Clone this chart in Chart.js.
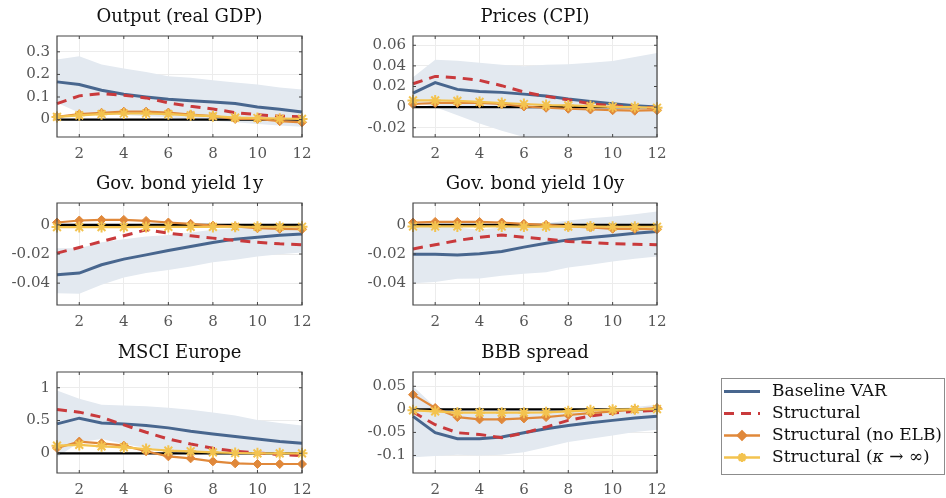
<!DOCTYPE html>
<html>
<head>
<meta charset="utf-8">
<script src="https://cdn.jsdelivr.net/npm/chart.js@4.4.1/dist/chart.umd.min.js"></script>
<style>
  html, body { margin:0; padding:0; background:#fff; }
  #wrap { position:relative; width:946px; height:498px; overflow:hidden; }
  canvas { position:absolute; }
</style>
</head>
<body>
<div id="wrap"></div>
<script>
// ---------- data ----------
const horizons = [1,2,3,4,5,6,7,8,9,10,11,12];
const xTicks = [2,4,6,8,10,12];
const seriesNames = ['Baseline VAR','Structural','Structural (no ELB)','Structural (κ → ∞)'];

const outputBaseline   = [0.167,0.155,0.13,0.112,0.10,0.09,0.083,0.078,0.071,0.056,0.046,0.034];
const outputStructural = [0.071,0.105,0.115,0.108,0.096,0.074,0.059,0.047,0.031,0.022,0.015,0.013];
const outputNoELB      = [0.012,0.024,0.03,0.035,0.035,0.031,0.022,0.015,0.003,0.003,-0.007,-0.012];
const outputKappa      = [0.012,0.019,0.024,0.027,0.027,0.024,0.019,0.015,0.009,0.007,0.004,0.003];
const outputBandHi     = [0.266,0.28,0.244,0.226,0.211,0.192,0.185,0.174,0.164,0.155,0.142,0.133];
const outputBandLo     = [0.075,0.03,0.025,0.02,0.015,0.01,0.0,-0.005,-0.012,-0.02,-0.026,-0.032];
const outputYTicks     = [0,0.1,0.2,0.3];

const pricesBaseline   = [0.0136,0.0237,0.0172,0.0152,0.0143,0.0126,0.0107,0.0078,0.0055,0.0032,0.0013,0.0];
const pricesStructural = [0.0227,0.0298,0.0285,0.026,0.0208,0.0146,0.0104,0.0071,0.0032,0.0013,0.0,-0.0006];
const pricesNoELB      = [0.003,0.004,0.004,0.004,0.003,0.0006,-0.0006,-0.0016,-0.0023,-0.003,-0.0035,-0.003];
const pricesKappa      = [0.0065,0.0065,0.006,0.005,0.004,0.003,0.002,0.0016,0.001,0.0003,0.0,-0.0006];
const pricesBandHi     = [0.029,0.046,0.045,0.043,0.041,0.0396,0.041,0.0415,0.043,0.0448,0.0487,0.0525];
const pricesBandLo     = [0.005,0.0,-0.008,-0.016,-0.023,-0.029,-0.034,-0.036,-0.037,-0.038,-0.04,-0.045];
const pricesYTicks     = [-0.02,0,0.02,0.04,0.06];

const gov1Baseline   = [-0.0343,-0.0331,-0.0274,-0.0235,-0.0206,-0.0176,-0.0149,-0.0121,-0.0098,-0.0085,-0.0071,-0.0062];
const gov1Structural = [-0.0194,-0.0155,-0.0114,-0.0075,-0.0034,-0.0057,-0.0075,-0.0091,-0.0107,-0.0119,-0.013,-0.0137];
const gov1NoELB      = [0.0016,0.003,0.0034,0.0034,0.0027,0.0016,0.0007,-0.0005,-0.0011,-0.0023,-0.0027,-0.003];
const gov1Kappa      = [-0.0015,-0.0015,-0.0015,-0.0015,-0.0014,-0.0014,-0.0014,-0.0014,-0.0013,-0.0013,-0.0013,-0.0013];
const gov1BandHi     = [-0.016,-0.016,-0.012,-0.0098,-0.008,-0.0069,-0.0053,-0.0034,-0.0023,-0.0007,0.0007,0.0011];
const gov1BandLo     = [-0.0469,-0.0473,-0.0411,-0.0361,-0.0331,-0.0309,-0.0286,-0.0256,-0.024,-0.0217,-0.0201,-0.019];
const gov1YTicks     = [-0.04,-0.02,0];

const gov10Baseline   = [-0.0201,-0.0201,-0.0206,-0.0199,-0.0183,-0.0153,-0.0126,-0.0103,-0.0087,-0.0073,-0.0057,-0.0046];
const gov10Structural = [-0.0165,-0.0137,-0.0107,-0.0085,-0.0069,-0.0085,-0.0098,-0.0114,-0.0121,-0.013,-0.0133,-0.0137];
const gov10NoELB      = [0.0016,0.002,0.002,0.002,0.0016,0.0007,0.0,-0.0011,-0.0018,-0.0027,-0.0027,-0.003];
const gov10Kappa      = [-0.0011,-0.0011,-0.0011,-0.0011,-0.0011,-0.0012,-0.0012,-0.0012,-0.0012,-0.0013,-0.0013,-0.0013];
const gov10BandHi     = [0.0023,-0.0007,-0.0018,-0.0034,-0.0016,-0.0007,0.0011,0.003,0.0046,0.0057,0.0073,0.0091];
const gov10BandLo     = [-0.04,-0.0393,-0.037,-0.0368,-0.035,-0.0336,-0.0325,-0.0293,-0.0274,-0.0251,-0.0233,-0.0217];
const gov10YTicks     = [-0.04,-0.02,0];

const msciBaseline   = [0.449,0.536,0.464,0.449,0.423,0.388,0.337,0.296,0.255,0.219,0.179,0.153];
const msciStructural = [0.668,0.628,0.551,0.434,0.321,0.219,0.143,0.077,0.031,0.005,-0.02,-0.036];
const msciNoELB      = [0.082,0.179,0.153,0.117,0.031,-0.046,-0.077,-0.122,-0.153,-0.163,-0.163,-0.163];
const msciKappa      = [0.117,0.128,0.107,0.092,0.066,0.041,0.031,0.015,0.005,0.0,0.0,0.0];
const msciBandHi     = [0.959,0.832,0.74,0.73,0.719,0.694,0.663,0.622,0.577,0.51,0.464,0.423];
const msciBandLo     = [-0.06,0.168,0.219,0.143,0.082,0.041,0.005,-0.02,-0.02,-0.02,-0.02,-0.02];
const msciYTicks     = [0,0.5,1];

const bbbBaseline   = [-0.0152,-0.0507,-0.0638,-0.0638,-0.0601,-0.0507,-0.042,-0.0348,-0.029,-0.0239,-0.0188,-0.0152];
const bbbStructural = [-0.0058,-0.0333,-0.0507,-0.0543,-0.0616,-0.0514,-0.0384,-0.0239,-0.0145,-0.008,-0.0043,-0.0022];
const bbbNoELB      = [0.0319,0.0029,-0.0167,-0.0217,-0.0217,-0.0196,-0.0167,-0.0123,-0.008,-0.0043,-0.0007,0.0029];
const bbbKappa      = [-0.0022,-0.0043,-0.0072,-0.0072,-0.0072,-0.0072,-0.0065,-0.0043,-0.0022,-0.0007,0.0,0.0007];
const bbbBandHi     = [0.05,0.005,-0.0022,-0.0043,-0.0043,-0.0043,-0.0036,-0.0022,-0.0007,0.0014,0.005,0.0101];
const bbbBandLo     = [-0.1036,-0.1014,-0.0986,-0.1,-0.0986,-0.0928,-0.0819,-0.071,-0.0638,-0.0565,-0.0493,-0.0442];
const bbbYTicks     = [-0.1,-0.05,0,0.05];

// ---------- panels ----------
const panels = [
  {title:'Output (real GDP)', base:outputBaseline, st:outputStructural, ne:outputNoELB, ka:outputKappa, hi:outputBandHi, lo:outputBandLo, yt:outputYTicks, ymin:-0.077, ymax:0.37, px:56.7, py:36, pw:245, ph:101},
  {title:'Prices (CPI)', base:pricesBaseline, st:pricesStructural, ne:pricesNoELB, ka:pricesKappa, hi:pricesBandHi, lo:pricesBandLo, yt:pricesYTicks, ymin:-0.029, ymax:0.069, px:413.3, py:36, pw:244, ph:101},
  {title:'Gov. bond yield 1y', base:gov1Baseline, st:gov1Structural, ne:gov1NoELB, ka:gov1Kappa, hi:gov1BandHi, lo:gov1BandLo, yt:gov1YTicks, ymin:-0.055, ymax:0.015, px:56.7, py:203.3, pw:245, ph:102},
  {title:'Gov. bond yield 10y', base:gov10Baseline, st:gov10Structural, ne:gov10NoELB, ka:gov10Kappa, hi:gov10BandHi, lo:gov10BandLo, yt:gov10YTicks, ymin:-0.055, ymax:0.015, px:413.3, py:203.3, pw:244, ph:102},
  {title:'MSCI Europe', base:msciBaseline, st:msciStructural, ne:msciNoELB, ka:msciKappa, hi:msciBandHi, lo:msciBandLo, yt:msciYTicks, ymin:-0.3, ymax:1.24, px:56.7, py:371.7, pw:245, ph:101},
  {title:'BBB spread', base:bbbBaseline, st:bbbStructural, ne:bbbNoELB, ka:bbbKappa, hi:bbbBandHi, lo:bbbBandLo, yt:bbbYTicks, ymin:-0.138, ymax:0.081, px:413.3, py:371.7, pw:244, ph:101}
];

const YW = 56, XH = 30, TH = 36;
const FONT = '"DejaVu Serif", "Liberation Serif", serif';
const C_BLUE='#48668e', C_RED='#c93a3c', C_ORANGE='#e0883a', C_YELLOW='#f3c34f', C_BAND='#e3e9f0';

const pts = arr => arr.map((v,i)=>({x:horizons[i], y:v}));

const boxPlugin = {
  id:'boxPlugin',
  afterDatasetsDraw(chart){
    const {ctx, chartArea:a, scales:{x,y}} = chart;
    ctx.save();
    ctx.strokeStyle='#444'; ctx.lineWidth=1.2;
    ctx.beginPath();
    ctx.rect(a.left, a.top, a.right-a.left, a.bottom-a.top);
    ctx.stroke();
    ctx.lineWidth=1;
    ctx.beginPath();
    x.ticks.forEach(t=>{
      const px = x.getPixelForValue(t.value);
      ctx.moveTo(px, a.bottom); ctx.lineTo(px, a.bottom-3);
      ctx.moveTo(px, a.top); ctx.lineTo(px, a.top+3);
    });
    y.ticks.forEach(t=>{
      const py = y.getPixelForValue(t.value);
      ctx.moveTo(a.left, py); ctx.lineTo(a.left+3, py);
      ctx.moveTo(a.right, py); ctx.lineTo(a.right-3, py);
    });
    ctx.stroke();
    ctx.restore();
  }
};

const wrap = document.getElementById('wrap');
function addCanvas(left, top, W, H){
  const cv = document.createElement('canvas');
  cv.width = W; cv.height = H;
  cv.style.width = W+'px'; cv.style.height = H+'px';
  cv.style.left = left+'px'; cv.style.top = top+'px';
  wrap.appendChild(cv);
  return cv;
}

panels.forEach(p=>{
  const W = Math.round(YW + p.pw + YW), H = Math.round(TH + p.ph + XH);
  const cv = addCanvas(p.px - YW, p.py - TH, W, H);
  const zero = horizons.map(()=>0);
  new Chart(cv.getContext('2d'), {
    type:'line',
    data:{ datasets:[
      {data:pts(p.lo), borderWidth:0, pointRadius:0, fill:false, order:10, clip:0},
      {data:pts(p.hi), borderWidth:0, pointRadius:0, backgroundColor:C_BAND, fill:{target:0}, order:9, clip:0},
      {data:pts(zero), borderColor:'#000', borderWidth:2.2, pointRadius:0, fill:false, order:8},
      {label:seriesNames[0], data:pts(p.base), borderColor:C_BLUE, borderWidth:3, pointRadius:0, fill:false, order:5, clip:6},
      {label:seriesNames[1], data:pts(p.st), borderColor:C_RED, borderWidth:3, borderDash:[10,7], pointRadius:0, fill:false, order:4, clip:6},
      {label:seriesNames[2], data:pts(p.ne), borderColor:C_ORANGE, borderWidth:2.2, pointStyle:'rectRot', pointRadius:4.5, pointBackgroundColor:C_ORANGE, pointBorderColor:C_ORANGE, pointBorderWidth:1, fill:false, order:3, clip:8},
      {label:seriesNames[3], data:pts(p.ka), borderColor:C_YELLOW, borderWidth:2.2, pointStyle:'star', pointRadius:5.5, pointBackgroundColor:C_YELLOW, pointBorderColor:C_YELLOW, pointBorderWidth:2, fill:false, order:2, clip:8}
    ]},
    options:{
      responsive:false, animation:false, devicePixelRatio:1,
      layout:{padding:0},
      plugins:{
        legend:{display:false}, tooltip:{enabled:false},
        title:{display:true, text:p.title, color:'#111', font:{family:FONT, size:18, weight:'normal'}, padding:{top:7, bottom:7.4}}
      },
      elements:{line:{tension:0}},
      scales:{
        x:{type:'linear', min:1, max:12,
           afterBuildTicks:s=>{s.ticks = xTicks.map(v=>({value:v}));},
           afterFit:s=>{s.height = XH;},
           grid:{color:'#ececec', drawTicks:false}, border:{display:false},
           ticks:{color:'#555', padding:8, maxRotation:0, font:{family:FONT, size:15}, callback:v=>String(v)}},
        y:{type:'linear', min:p.ymin, max:p.ymax,
           afterBuildTicks:s=>{s.ticks = p.yt.map(v=>({value:v}));},
           afterFit:s=>{s.width = YW;},
           grid:{color:'#ececec', drawTicks:false}, border:{display:false},
           ticks:{color:'#555', padding:7, font:{family:FONT, size:15}, callback:v=>String(v)}},
        yR:{type:'linear', position:'right', display:true,
           afterFit:s=>{s.width = YW;},
           grid:{display:false, drawTicks:false}, border:{display:false},
           ticks:{display:false}}
      }
    },
    plugins:[boxPlugin]
  });
});

// ---------- legend (drawn by a Chart.js plugin on its own canvas) ----------
const legendItems = [
  {name:seriesNames[0], color:C_BLUE, width:3, dash:[], marker:null},
  {name:seriesNames[1], color:C_RED, width:3, dash:[10,7], marker:null},
  {name:seriesNames[2], color:C_ORANGE, width:2.5, dash:[], marker:'rectRot'},
  {name:seriesNames[3], color:C_YELLOW, width:2.5, dash:[], marker:'star'}
];
const legendPlugin = {
  id:'legendBox',
  afterDraw(chart){
    const ctx = chart.ctx;
    ctx.save();
    ctx.strokeStyle='#8c8c8c'; ctx.lineWidth=1;
    ctx.strokeRect(1.5, 1.5, 223, 96);
    legendItems.forEach((it,i)=>{
      const cy = 14.5 + i*22;
      ctx.strokeStyle = it.color; ctx.lineWidth = it.width; ctx.setLineDash(it.dash);
      ctx.beginPath(); ctx.moveTo(4, cy); ctx.lineTo(40, cy); ctx.stroke();
      ctx.setLineDash([]);
      if (it.marker) {
        Chart.helpers.drawPoint(ctx, {pointStyle:it.marker, radius: it.marker==='star'?4.5:4, borderWidth:2}, 22, cy);
        ctx.fillStyle = it.color;
        if (it.marker==='rectRot') { ctx.beginPath(); ctx.moveTo(22,cy-5); ctx.lineTo(25.5,cy); ctx.lineTo(22,cy+5); ctx.lineTo(18.5,cy); ctx.closePath(); ctx.fill(); }
      }
      ctx.fillStyle='#111';
      ctx.font = '17px ' + FONT;
      ctx.textBaseline='middle';
      const m = it.name.match(/^(.*)(κ)(.*)$/);
      if (m) {
        ctx.fillText(m[1], 52, cy);
        let xx = 52 + ctx.measureText(m[1]).width;
        ctx.font = 'italic 17px ' + FONT;
        ctx.fillText(m[2], xx, cy);
        xx += ctx.measureText(m[2]).width;
        ctx.font = '17px ' + FONT;
        ctx.fillText(m[3], xx, cy);
      } else {
        ctx.fillText(it.name, 52, cy);
      }
    });
    ctx.restore();
  }
};
const lcv = addCanvas(719.5, 377, 226, 100);
new Chart(lcv.getContext('2d'), {
  type:'line',
  data:{datasets:[]},
  options:{responsive:false, animation:false, devicePixelRatio:1,
    plugins:{legend:{display:false}, tooltip:{enabled:false}},
    scales:{x:{display:false}, y:{display:false}}},
  plugins:[legendPlugin]
});
</script>
</body>
</html>
